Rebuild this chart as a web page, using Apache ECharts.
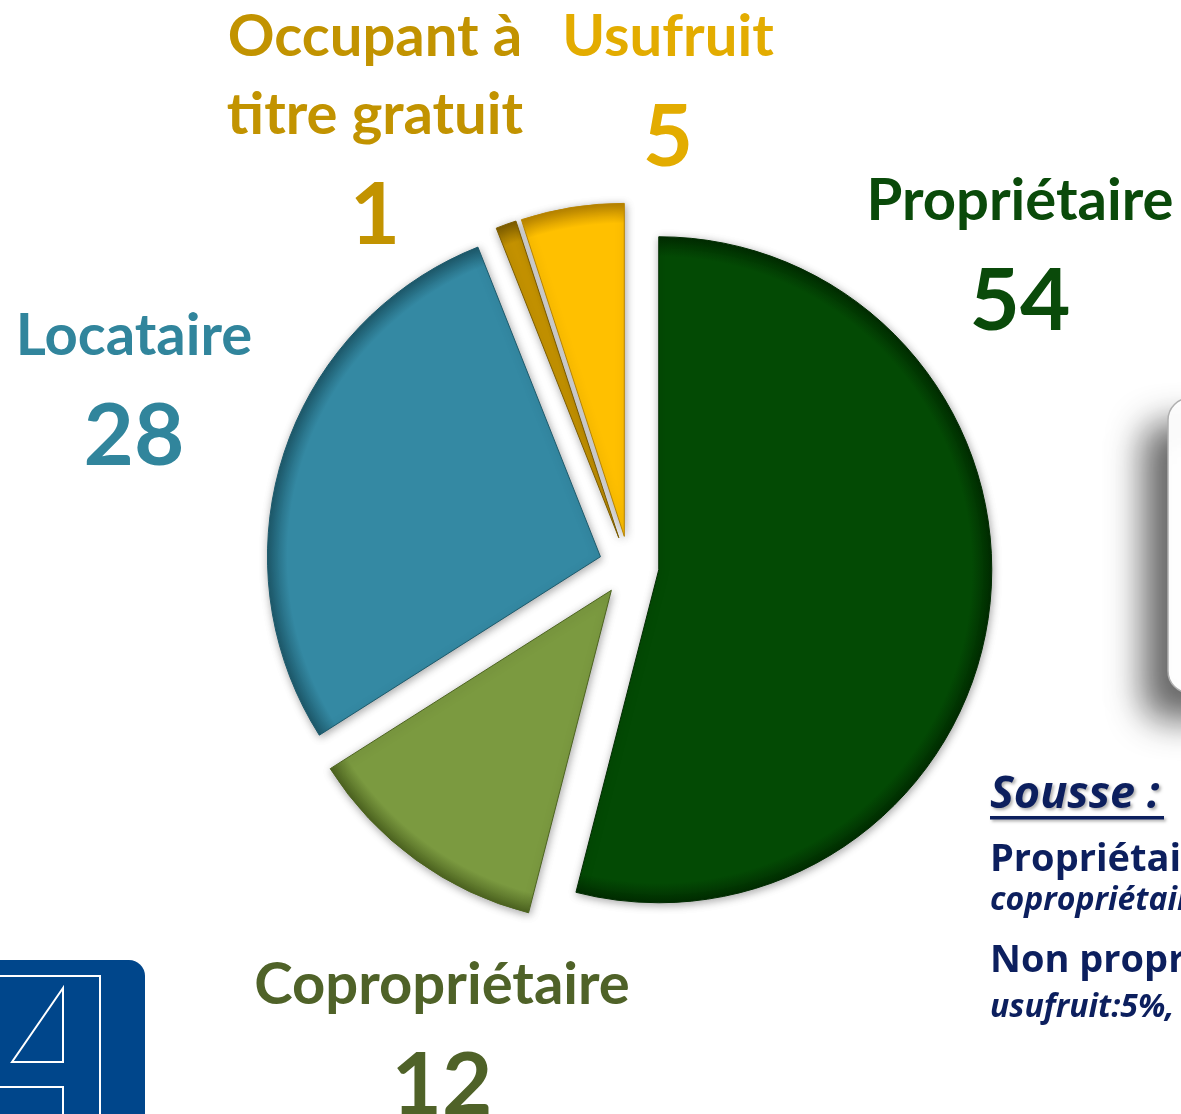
<!DOCTYPE html>
<html>
<head>
<meta charset="utf-8">
<script src="https://cdn.jsdelivr.net/npm/echarts@6/dist/echarts.min.js"></script>
<style>
html,body{margin:0;padding:0;background:#fff;}
#chart{width:1181px;height:1114px;}
</style>
</head>
<body>
<div id="chart"></div>
<script>
// ---- data ----
const categories = ['Propriétaire', 'Copropriétaire', 'Locataire', 'Occupant à\ntitre gratuit', 'Usufruit'];
const values = [54, 12, 28, 1, 5];
const noteTitle = 'Sousse :';
const noteLines = [
  'Propriétaires : 66%',
  'copropriétaire:12%, propriétaire:54%',
  'Non propriétaires : 34%',
  'usufruit:5%, locataire:28%, occupant:1%'
];

// ---- styles ----
const sliceColors = ['#034a04', '#7b9a40', '#3489a3', '#c49200', '#ffc000'];
const sliceRims   = ['#012c01', '#4d6420', '#1d5a6c', '#7d5d00', '#b88400'];
const textColors  = ['#0a4a0a', '#4f6228', '#31859c', '#c29300', '#e3ac00'];
const labelAnchors = [[1020, 162], [442, 946], [134, 297], [375, -2], [668, -2]];
const noteStyle = [
  {f: 38, it: false, y: 860},
  {f: 32, it: true, y: 901},
  {f: 38, it: false, y: 961},
  {f: 32, it: true, y: 1008}
];

const CX = 629, CY = 566, R = 333;
const FONT = 'Lato, "Open Sans", sans-serif';
const NFONT = '"Open Sans", Lato, sans-serif';
const NAVY = '#0c1f5e';

const chart = echarts.init(document.getElementById('chart'), null, {renderer: 'canvas'});

const pieData = values.map((v, i) => ({
  name: categories[i],
  value: v,
  selected: true,
  itemStyle: {
    color: {
      type: 'radial', x: CX, y: CY, r: R, global: true,
      colorStops: [
        {offset: 0, color: sliceColors[i]},
        {offset: 0.94, color: sliceColors[i]},
        {offset: 1, color: sliceRims[i]}
      ]
    },
    borderColor: sliceRims[i]
  }
}));

// slice labels drawn as text, content from the data arrays
const labelGraphics = values.map((v, i) => ({
  type: 'text', x: labelAnchors[i][0], y: labelAnchors[i][1], z: 5,
  style: {
    text: '{n|' + categories[i] + '}\n{v|' + v + '}',
    align: 'center', verticalAlign: 'top',
    rich: {
      n: {fill: textColors[i], fontFamily: FONT, fontWeight: 'bold', fontSize: 58, lineHeight: 78, align: 'center'},
      v: {fill: textColors[i], fontFamily: FONT, fontWeight: 'bold', fontSize: 87, lineHeight: 123, align: 'center'}
    }
  }
}));

const graphics = [
  // rounded box on the right with shadow
  {type: 'rect', shape: {x: 1168, y: 398, width: 80, height: 295, r: 22},
   style: {fill: '#fff', stroke: '#b0b0b0', lineWidth: 1.5,
           shadowColor: 'rgba(0,0,0,0.6)', shadowBlur: 35, shadowOffsetX: -24, shadowOffsetY: 26}, z: 1},
  // logo
  {type: 'rect', shape: {x: -30, y: 960, width: 175, height: 200, r: 16}, style: {fill: '#00468b'}, z: 1},
  {type: 'polyline', shape: {points: [[0, 976], [100, 976], [100, 1114]]}, style: {stroke: '#fff', lineWidth: 2, fill: null}, z: 2},
  {type: 'polygon', shape: {points: [[63, 988], [12, 1062], [63, 1062]]}, style: {stroke: '#fff', lineWidth: 2, fill: null}, z: 2},
  {type: 'polyline', shape: {points: [[0, 1087], [63, 1087], [63, 1114]]}, style: {stroke: '#fff', lineWidth: 2, fill: null}, z: 2},
  // note
  {type: 'text', x: 990, y: 795, z: 3,
   style: {text: noteTitle, fill: NAVY, font: 'italic bold 45px ' + NFONT, verticalAlign: 'middle',
           textShadowColor: 'rgba(0,0,0,0.3)', textShadowBlur: 3, textShadowOffsetX: 2, textShadowOffsetY: 2}},
  {type: 'rect', shape: {x: 990, y: 816, width: 174, height: 3.5}, style: {fill: NAVY, shadowColor: 'rgba(0,0,0,0.3)', shadowBlur: 3, shadowOffsetX: 2, shadowOffsetY: 2}, z: 3}
].concat(noteLines.map((t, i) => ({
  type: 'text', x: 990, y: noteStyle[i].y, z: 3,
  style: {text: t, fill: NAVY, font: (noteStyle[i].it ? 'italic ' : '') + 'bold ' + noteStyle[i].f + 'px ' + NFONT, verticalAlign: 'middle'}
}))).concat(labelGraphics);

chart.setOption({
  animation: false,
  backgroundColor: '#fff',
  graphic: graphics,
  series: [{
    type: 'pie',
    center: [CX, CY],
    radius: R,
    startAngle: 90,
    clockwise: true,
    selectedMode: 'multiple',
    selectedOffset: 30,
    emphasis: {disabled: true},
    itemStyle: {borderWidth: 1, shadowBlur: 8, shadowColor: 'rgba(0,0,0,0.35)', shadowOffsetX: 1, shadowOffsetY: 2},
    label: {show: false},
    labelLine: {show: false},
    data: pieData
  }]
});
</script>
</body>
</html>
